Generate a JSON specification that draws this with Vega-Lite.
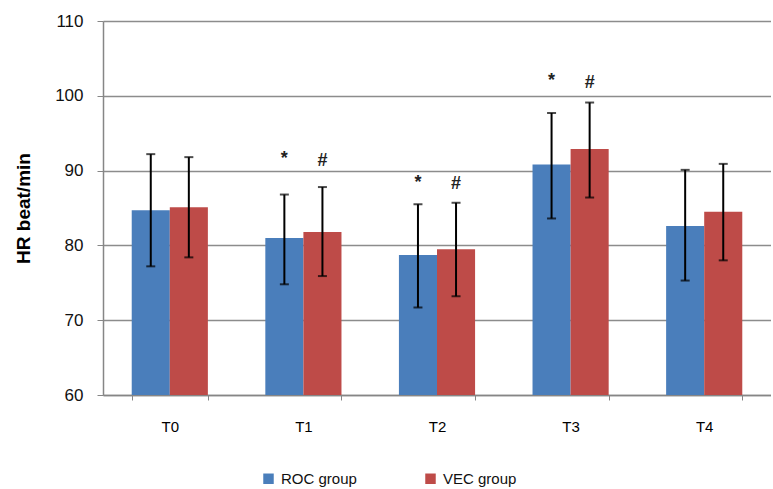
{
  "$schema": "https://vega.github.io/schema/vega-lite/v6.json",
  "width": 668,
  "height": 374,
  "padding": {"top": 12, "left": 14, "right": 0, "bottom": 5},
  "background": "white",
  "config": {
    "font": "Liberation Sans",
    "view": {"stroke": null},
    "axis": {"labelFont": "Liberation Sans", "titleFont": "Liberation Sans"}
  },
  "datasets": {
    "bars": [
      {"time": "T0", "group": "ROC group", "mean": 84.7, "lo": 77.2, "hi": 92.2},
      {"time": "T0", "group": "VEC group", "mean": 85.1, "lo": 78.4, "hi": 91.8},
      {"time": "T1", "group": "ROC group", "mean": 81.0, "lo": 74.8, "hi": 86.8},
      {"time": "T1", "group": "VEC group", "mean": 81.8, "lo": 75.9, "hi": 87.8},
      {"time": "T2", "group": "ROC group", "mean": 78.7, "lo": 71.7, "hi": 85.5},
      {"time": "T2", "group": "VEC group", "mean": 79.5, "lo": 73.2, "hi": 85.7},
      {"time": "T3", "group": "ROC group", "mean": 90.8, "lo": 83.6, "hi": 97.7},
      {"time": "T3", "group": "VEC group", "mean": 92.9, "lo": 86.4, "hi": 99.1},
      {"time": "T4", "group": "ROC group", "mean": 82.6, "lo": 75.3, "hi": 90.1},
      {"time": "T4", "group": "VEC group", "mean": 84.5, "lo": 78.0, "hi": 90.9}
    ],
    "notes": [
      {"time": "T1", "group": "ROC group", "symbol": "*", "pos": 91.6},
      {"time": "T1", "group": "VEC group", "symbol": "#", "pos": 91.3},
      {"time": "T2", "group": "ROC group", "symbol": "*", "pos": 88.4},
      {"time": "T2", "group": "VEC group", "symbol": "#", "pos": 88.2},
      {"time": "T3", "group": "ROC group", "symbol": "*", "pos": 102.0},
      {"time": "T3", "group": "VEC group", "symbol": "#", "pos": 101.7}
    ]
  },
  "encoding": {
    "x": {
      "field": "time",
      "type": "nominal",
      "sort": ["T0", "T1", "T2", "T3", "T4"],
      "scale": {"paddingInner": 0.43, "paddingOuter": 0.215},
      "axis": {
        "title": null,
        "labelAngle": 0,
        "labelFontSize": 15,
        "labelColor": "#000000",
        "labelPadding": 19,
        "tickBand": "extent",
        "tickSize": 5,
        "tickColor": "#868686",
        "domainColor": "#868686",
        "domainWidth": 1.5,
        "grid": false
      }
    },
    "xOffset": {
      "field": "group",
      "type": "nominal",
      "sort": ["ROC group", "VEC group"],
      "scale": {"paddingInner": 0, "paddingOuter": 0}
    }
  },
  "layer": [
    {
      "data": {"name": "bars"},
      "mark": {"type": "bar", "clip": true},
      "encoding": {
        "y": {
          "field": "mean",
          "type": "quantitative",
          "scale": {"domain": [60, 110], "nice": false, "zero": false},
          "axis": {
            "values": [60, 70, 80, 90, 100, 110],
            "title": "HR beat/min",
            "titleFontSize": 19,
            "titleFontWeight": "bold",
            "titleColor": "#000000",
            "titlePadding": 21,
            "labelFontSize": 17,
            "labelColor": "#111111",
            "labelPadding": 14,
            "tickSize": 6,
            "tickColor": "#868686",
            "domainColor": "#868686",
            "domainWidth": 1.5,
            "grid": true,
            "gridColor": "#8c8c8c",
            "gridWidth": 1.3
          }
        },
        "color": {
          "field": "group",
          "type": "nominal",
          "scale": {"domain": ["ROC group", "VEC group"], "range": ["#4A7EBB", "#BE4B48"]},
          "legend": {
            "title": null,
            "orient": "none",
            "legendX": 158,
            "legendY": 450,
            "direction": "horizontal",
            "symbolType": "square",
            "symbolSize": 110,
            "symbolStrokeWidth": 0,
            "labelFontSize": 15,
            "labelColor": "#111111",
            "columnPadding": 66,
            "labelOffset": 5
          }
        }
      }
    },
    {
      "data": {"name": "bars"},
      "mark": {"type": "rule", "color": "#000000", "strokeWidth": 2},
      "encoding": {
        "y": {"field": "lo", "type": "quantitative"},
        "y2": {"field": "hi"}
      }
    },
    {
      "data": {"name": "bars"},
      "mark": {"type": "tick", "color": "#000000", "thickness": 2, "size": 9},
      "encoding": {
        "y": {"field": "lo", "type": "quantitative"}
      }
    },
    {
      "data": {"name": "bars"},
      "mark": {"type": "tick", "color": "#000000", "thickness": 2, "size": 9},
      "encoding": {
        "y": {"field": "hi", "type": "quantitative"}
      }
    },
    {
      "data": {"name": "notes"},
      "mark": {"type": "text", "fontSize": 18, "fontWeight": "bold", "color": "#222222", "baseline": "middle"},
      "encoding": {
        "y": {"field": "pos", "type": "quantitative"},
        "text": {"field": "symbol"}
      }
    }
  ]
}
